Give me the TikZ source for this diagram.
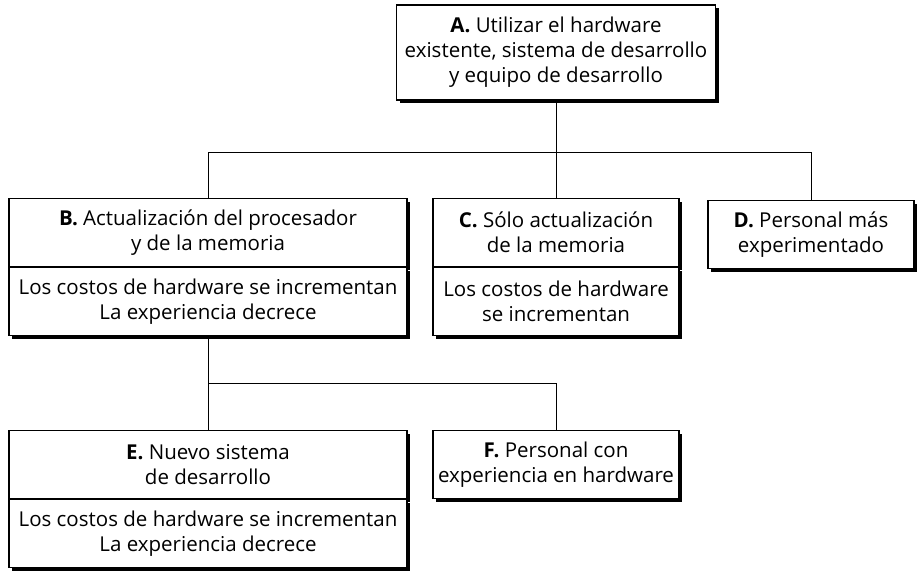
\documentclass[tikz,border=0pt]{standalone}
\usepackage{fontspec}
\setmainfont{Open Sans}
\usetikzlibrary{positioning,shadows}

\begin{document}
\begin{tikzpicture}[
        x=1pt,y=-1pt,
        box/.style={rectangle,draw=black,line width=1.2pt,fill=white,
          align=center,inner sep=0pt,minimum height=68pt,
          font=\fontsize{20.5}{25}\selectfont,
          drop shadow={shadow xshift=3pt,shadow yshift=-3pt,fill=black,opacity=1}},
        link/.style={draw=black,line width=1pt}
      ]
        \useasboundingbox (0,0) rectangle (920,573);

        \node[box,minimum width=319pt,minimum height=95pt] (A) at (556,52.5)
          {\textbf{A.} Utilizar el hardware\\existente, sistema de desarrollo\\y equipo de desarrollo};

        \node[box,minimum width=398pt,anchor=north] (B) at (208,198)
          {\textbf{B.} Actualización del procesador\\y de la memoria};
        \node[box,minimum width=398pt,below=0pt of B] (Bcost)
          {Los costos de hardware se incrementan\\La experiencia decrece};

        \node[box,minimum width=246pt,anchor=north] (C) at (556,198)
          {\textbf{C.} Sólo actualización\\de la memoria};
        \node[box,minimum width=246pt,below=0pt of C] (Ccost)
          {Los costos de hardware\\se incrementan};

        \node[box,minimum width=206pt,anchor=north] (D) at (811,200)
          {\textbf{D.} Personal más\\experimentado};

        \node[box,minimum width=398pt,anchor=north] (E) at (208,430)
          {\textbf{E.} Nuevo sistema\\de desarrollo};
        \node[box,minimum width=398pt,below=0pt of E] (Ecost)
          {Los costos de hardware se incrementan\\La experiencia decrece};

        \node[box,minimum width=246pt,anchor=north] (F) at (556,430)
          {\textbf{F.} Personal con\\experiencia en hardware};

        % buses
        \coordinate (top bus) at (0,152);
        \coordinate (low bus) at (0,383);

        \draw[link] (A.south) -- (C.north);
        \draw[link] (B.north) |- (D.north |- top bus) -- (D.north);

        \draw[link] (Bcost.south) -- (E.north);
        \draw[link] (Bcost.south |- low bus) -| (F.north);
      \end{tikzpicture}
\end{document}
